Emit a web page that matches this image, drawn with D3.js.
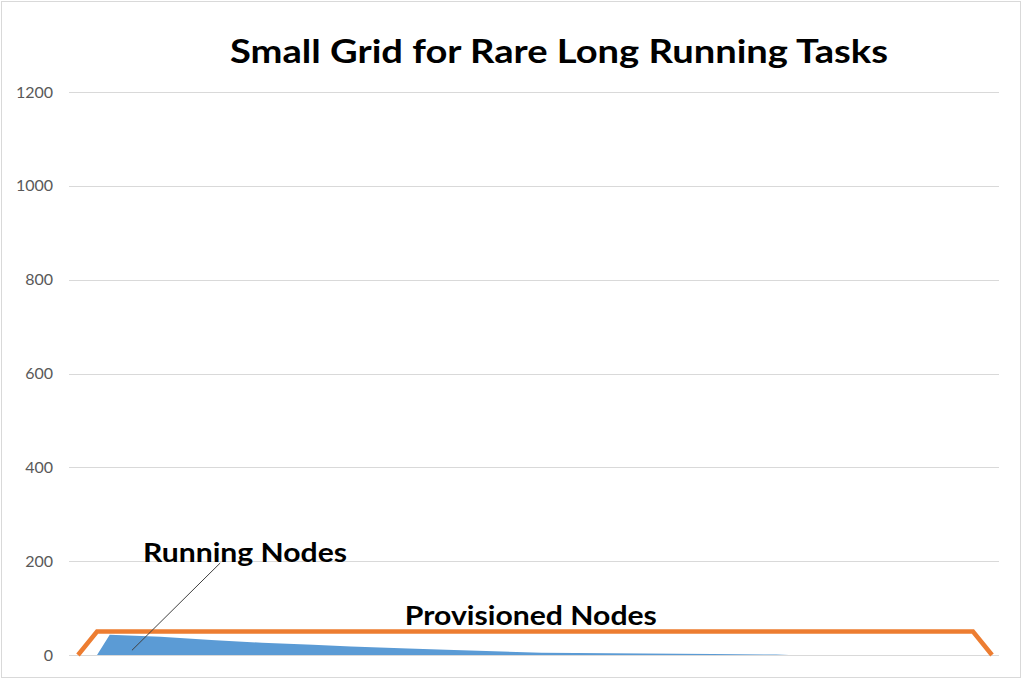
<!DOCTYPE html>
<html>
<head>
<meta charset="utf-8">
<script src="https://cdn.jsdelivr.net/npm/d3@7"></script>
<style>
  html, body { margin: 0; padding: 0; background: #fff; }
  svg { display: block; }
</style>
</head>
<body>
<svg id="chart" width="1024" height="679"></svg>
<script>
// ---- data ----
const chartTitle = "Small Grid for Rare Long Running Tasks";
const yTicks = [0, 200, 400, 600, 800, 1000, 1200];
const timeSteps = 144; // last time index on the x axis
const provisionedX = [0, 3, 141, 144];
const provisionedY = [0, 50, 50, 0];
const runningX = [3, 5, 13, 21, 29, 37, 43, 52, 58, 73, 89, 100, 110, 112];
const runningY = [0, 43, 39, 32, 26, 22, 18, 14, 11, 5, 3, 2, 1, 0];
const runningLabel = "Running Nodes";
const provisionedLabel = "Provisioned Nodes";

// ---- layout ----
const W = 1024, H = 679;
const svg = d3.select("#chart");
const font = "Lato, 'Open Sans', sans-serif";

svg.append("rect").attr("x", 1.5).attr("y", 1.5).attr("width", 1019).attr("height", 676)
  .attr("fill", "#fff").attr("stroke", "#d9d9d9").attr("stroke-width", 1);

const plotLeft = 69, plotRight = 999;
const x = d3.scaleLinear().domain([0, timeSteps]).range([78, 992]);
const y = d3.scaleLinear().domain([0, 1200]).range([655, 92]);

// gridlines
const yAxis = d3.axisLeft(y).tickValues(yTicks).tickSize(-(plotRight - plotLeft)).tickPadding(16)
  .tickFormat(d3.format("d"));
const gAxis = svg.append("g").attr("transform", `translate(${plotLeft},0)`).call(yAxis);
gAxis.select(".domain").remove();
gAxis.selectAll(".tick line").attr("stroke", "#d9d9d9").attr("stroke-width", 1)
  .attr("shape-rendering", "crispEdges");
gAxis.selectAll(".tick text").attr("fill", "#595959").attr("font-family", font)
  .attr("font-size", 16).attr("x", 53 - plotLeft).attr("text-anchor", "end");

// running area
const runData = runningX.map((t, i) => ({ t, v: runningY[i] }));
svg.append("path").datum(runData)
  .attr("fill", "#5b9bd5")
  .attr("d", d3.area().x(d => x(d.t)).y0(y(0)).y1(d => y(d.v)));

// axis base line (over the area bottom)
svg.append("line").attr("x1", plotLeft).attr("x2", plotRight).attr("y1", y(0)).attr("y2", y(0))
  .attr("stroke", "#d9d9d9").attr("stroke-width", 1).attr("shape-rendering", "crispEdges");

// provisioned line
const provData = provisionedX.map((t, i) => ({ t, v: provisionedY[i] }));
svg.append("path").datum(provData)
  .attr("fill", "none").attr("stroke", "#ed7d31").attr("stroke-width", 4.5)
  .attr("stroke-linejoin", "miter")
  .attr("d", d3.line().x(d => x(d.t)).y(d => y(d.v)));

// helper: bold text sized by cap height, squeezed to a target width
function fitText(str, x0, baseline, width, fs) {
  return svg.append("text").text(str).attr("x", x0).attr("y", baseline)
    .attr("font-family", font).attr("font-weight", 700).attr("font-size", fs).attr("fill", "#000")
    .attr("textLength", width).attr("lengthAdjust", "spacingAndGlyphs");
}

// title
fitText(chartTitle, 230, 63, 658, 32);

// annotation leader line (data coordinates)
const leader = [{ t: 22.4, v: 196 }, { t: 8.5, v: 10 }];
svg.append("line")
  .attr("x1", x(leader[0].t)).attr("y1", y(leader[0].v))
  .attr("x2", x(leader[1].t)).attr("y2", y(leader[1].v))
  .attr("stroke", "#404040").attr("stroke-width", 1);

// labels
fitText(runningLabel, x(10.24), y(198), 204, 26.5);
fitText(provisionedLabel, x(51.5), y(64), 252, 26.5);
</script>
</body>
</html>
